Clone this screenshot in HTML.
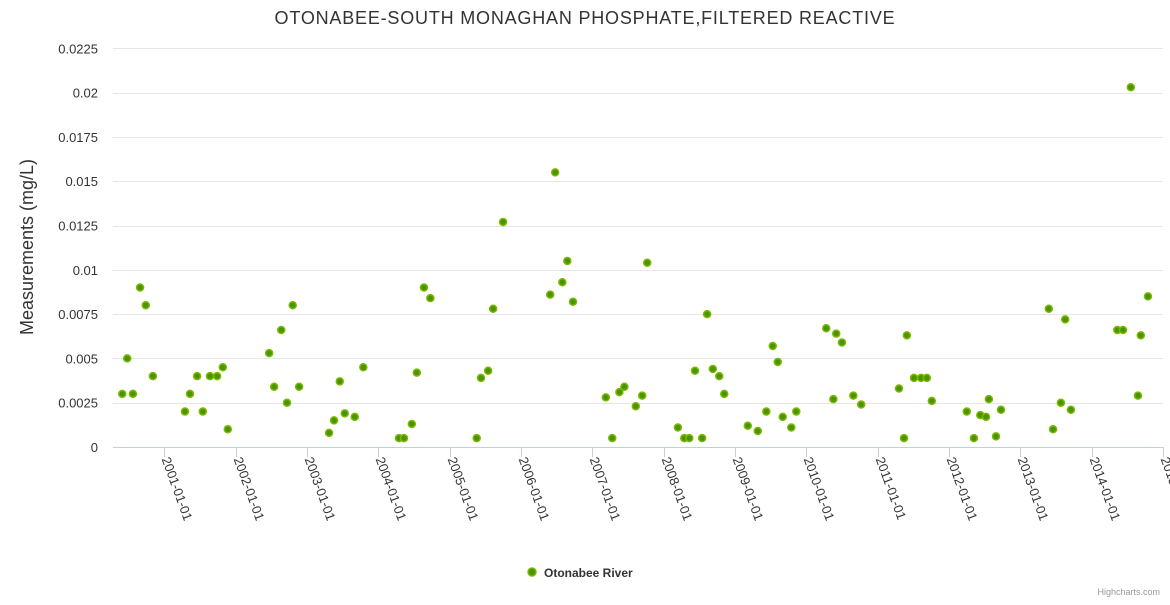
<!DOCTYPE html>
<html><head><meta charset="utf-8"><style>
body{margin:0;background:#fff;}
svg{font-family:"Liberation Sans","DejaVu Sans",sans-serif;}
</style></head><body>
<svg id="chart" width="1170" height="600">
<text x="585" y="24" text-anchor="middle" font-size="18" fill="#333" letter-spacing="0.8">OTONABEE-SOUTH MONAGHAN PHOSPHATE,FILTERED REACTIVE</text>
<text transform="translate(33,247) rotate(-90)" text-anchor="middle" font-size="18" fill="#333">Measurements (mg/L)</text>
<g id="grid"></g><g id="xaxis"></g><g id="pts"></g>
<g>
<circle cx="532" cy="572" r="4" fill="#4a9400" stroke="#7cb800" stroke-width="1.5"/>
<text x="544" y="577" font-size="12" font-weight="bold" fill="#333">Otonabee River</text>
</g>
<text x="1160" y="595" text-anchor="end" font-size="9" fill="#999">Highcharts.com</text>
</svg>
<script>
const years=[2000.41,2000.48,2000.56,2000.66,2000.74,2000.84,2001.29,2001.36,2001.46,2001.54,2001.64,2001.74,2001.82,2001.89,2002.47,2002.54,2002.64,2002.72,2002.80,2002.89,2003.31,2003.38,2003.46,2003.53,2003.67,2003.79,2004.29,2004.36,2004.47,2004.54,2004.64,2004.73,2005.38,2005.44,2005.54,2005.61,2005.75,2006.41,2006.48,2006.58,2006.65,2006.73,2007.19,2007.28,2007.38,2007.45,2007.61,2007.70,2007.77,2008.20,2008.29,2008.36,2008.44,2008.54,2008.61,2008.69,2008.78,2008.85,2009.18,2009.32,2009.44,2009.53,2009.60,2009.67,2009.79,2009.86,2010.28,2010.38,2010.42,2010.50,2010.66,2010.77,2011.30,2011.37,2011.41,2011.51,2011.61,2011.69,2011.76,2012.25,2012.35,2012.44,2012.52,2012.56,2012.66,2012.73,2013.40,2013.46,2013.57,2013.63,2013.71,2014.36,2014.44,2014.55,2014.65,2014.69,2014.79];
const values=[0.003,0.005,0.003,0.009,0.008,0.004,0.002,0.003,0.004,0.002,0.004,0.004,0.0045,0.001,0.0053,0.0034,0.0066,0.0025,0.008,0.0034,0.0008,0.0015,0.0037,0.0019,0.0017,0.0045,0.0005,0.0005,0.0013,0.0042,0.009,0.0084,0.0005,0.0039,0.0043,0.0078,0.0127,0.0086,0.0155,0.0093,0.0105,0.0082,0.0028,0.0005,0.0031,0.0034,0.0023,0.0029,0.0104,0.0011,0.0005,0.0005,0.0043,0.0005,0.0075,0.0044,0.004,0.003,0.0012,0.0009,0.002,0.0057,0.0048,0.0017,0.0011,0.002,0.0067,0.0027,0.0064,0.0059,0.0029,0.0024,0.0033,0.0005,0.0063,0.0039,0.0039,0.0039,0.0026,0.002,0.0005,0.0018,0.0017,0.0027,0.0006,0.0021,0.0078,0.001,0.0025,0.0072,0.0021,0.0066,0.0066,0.0203,0.0029,0.0063,0.0085];
const yTicks=[0,0.0025,0.005,0.0075,0.01,0.0125,0.015,0.0175,0.02,0.0225];
const yTickLabels=["0","0.0025","0.005","0.0075","0.01","0.0125","0.015","0.0175","0.02","0.0225"];
const xTickYears=[2001,2002,2003,2004,2005,2006,2007,2008,2009,2010,2011,2012,2013,2014,2015];
const NS="http://www.w3.org/2000/svg";
const X0=113,X1=1163;
function xs(yr){return 164.3+(yr-2001)*71.33;}
function ys(v){return 447-v/0.0225*398.7;}
function mk(t,a,p){const e=document.createElementNS(NS,t);for(const k in a)e.setAttribute(k,a[k]);p.appendChild(e);return e;}
const grid=document.getElementById('grid'),xa=document.getElementById('xaxis'),pts=document.getElementById('pts');
yTicks.forEach((v,i)=>{
 const y=Math.round(ys(v))+0.5;
 if(i>0){const l=mk('line',{x1:X0,x2:X1,y1:y,y2:y,stroke:'#e6e6e6'},grid);
 
 }
 const t=mk('text',{x:98,y:ys(v)+5,'text-anchor':'end','font-size':13,fill:'#333'},grid);
 t.textContent=yTickLabels[i];
 
 
});
const base=mk('line',{x1:X0,x2:X1,y1:447.5,y2:447.5,stroke:'#c0d0e0'},xa);


xTickYears.forEach(yr=>{
 const x=Math.round(xs(yr))+0.5;
 const tk=mk('line',{x1:x,x2:x,y1:447,y2:457,stroke:'#c0d0e0'},xa);
 
 
 const t=mk('text',{transform:`translate(${x-3},459) rotate(70)`,'font-size':13,fill:'#333'},xa);
 t.textContent=yr+'-01-01';
 
 
});
years.forEach((yr,i)=>{
 const c=mk('circle',{cx:xs(yr),cy:ys(values[i]),r:3.5,fill:'#4a9400',stroke:'#7cb800','stroke-width':1.5},pts);
 
 
});
</script>
</body></html>
